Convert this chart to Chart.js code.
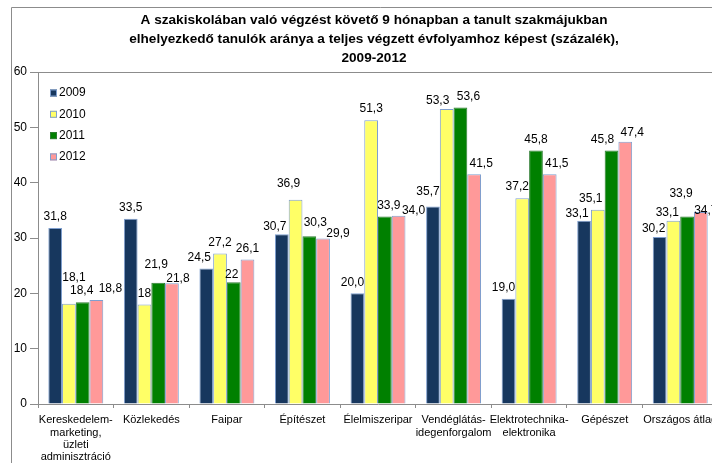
<!DOCTYPE html>
<html>
<head>
<meta charset="utf-8">
<script src="https://cdn.jsdelivr.net/npm/chart.js@4.4.1/dist/chart.umd.min.js"></script>
<style>
  html, body { margin: 0; padding: 0; background: #fff; overflow: hidden; }
  #wrap { width: 750px; height: 463px; }
</style>
</head>
<body>
<div id="wrap"><canvas id="chart" width="750" height="463"></canvas></div>
<script>
// Chart data
const categories = [
  ["Kereskedelem-", "marketing,", "üzleti", "adminisztráció"],
  "Közlekedés",
  "Faipar",
  "Építészet",
  "Élelmiszeripar",
  ["Vendéglátás-", "idegenforgalom"],
  ["Elektrotechnika-", "elektronika"],
  "Gépészet",
  "Országos átlag"
];
const years = ["2009", "2010", "2011", "2012"];

const values2009 = [31.8, 33.5, 24.5, 30.7, 20.0, 35.7, 19.0, 33.1, 30.2];
const values2010 = [18.1, 18.0, 27.2, 36.9, 51.3, 53.3, 37.2, 35.1, 33.1];
const values2011 = [18.4, 21.9, 22.0, 30.3, 33.9, 53.6, 45.8, 45.8, 33.9];
const values2012 = [18.8, 21.8, 26.1, 29.9, 34.0, 41.5, 41.5, 47.4, 34.7];

// value labels as printed on the chart
const labels2009 = ["31,8", "33,5", "24,5", "30,7", "20,0", "35,7", "19,0", "33,1", "30,2"];
const labels2010 = ["18,1", "18", "27,2", "36,9", "51,3", "53,3", "37,2", "35,1", "33,1"];
const labels2011 = ["18,4", "21,9", "22", "30,3", "33,9", "53,6", "45,8", "45,8", "33,9"];
const labels2012 = ["18,8", "21,8", "26,1", "29,9", "34,0", "41,5", "41,5", "47,4", "34,7"];

const yTicks = [0, 10, 20, 30, 40, 50, 60];

const titleLines = [
  "A szakiskolában való végzést követő 9 hónapban a tanult szakmájukban",
  "elhelyezkedő tanulók aránya a teljes végzett évfolyamhoz képest (százalék),",
  "2009-2012"
];

// label nudges [dx, dy] so the numbers don't collide (like the original)
const nudge = [
  [[0,0],[0,0],[-7,0],[-7,4],[-5,0],[-5,-4],[-5,0],[-7,4],[-6,3]],
  [[5,-15],[0,0],[0,0],[-7,-5],[0,0],[-9,3],[-5,0],[-7,0],[-6,3]],
  [[-1,0],[-2,-7],[-2,3],[6,-3],[4,0],[8,0],[0,0],[-9,0],[-6,-12]],
  [[14,0],[6,6],[0,0],[15,6],[15,6],[7,0],[7,0],[7,2],[5,10]]
];

const FONT = "'Liberation Sans', Arial, sans-serif";
const GRAY = "#8c8c8c";

const seriesValues = [values2009, values2010, values2011, values2012];
const seriesLabels = [labels2009, labels2010, labels2011, labels2012];
const fills = ["#17375E", "#FFFF66", "#008000", "#FF9999"];
const borders = ["#7F9FCF", "#7F9FCF", "#2E7D32", "#7F9FCF"];

// Draws title, outer frame, plot border, legend and value labels
const decorations = {
  id: "decorations",
  beforeDraw: (chart) => {
    const { ctx, chartArea: a } = chart;
    ctx.save();
    ctx.strokeStyle = GRAY;
    ctx.lineWidth = 1;
    ctx.beginPath();
    ctx.moveTo(11.5, chart.height);
    ctx.lineTo(11.5, 7.5);
    ctx.lineTo(chart.width, 7.5);
    ctx.moveTo(a.left, Math.round(a.top) + 0.5);
    ctx.lineTo(chart.width, Math.round(a.top) + 0.5);
    ctx.stroke();

    ctx.fillStyle = "#000";
    ctx.font = "bold 13.6px " + FONT;
    ctx.textAlign = "center";
    ctx.textBaseline = "middle";
    titleLines.forEach((line, i) => ctx.fillText(line, 374, 20 + i * 19));
    ctx.restore();
  },
  afterDatasetsDraw: (chart) => {
    const ctx = chart.ctx;
    ctx.save();
    ctx.font = "12px " + FONT;
    ctx.fillStyle = "#000";
    ctx.textAlign = "center";
    ctx.textBaseline = "middle";
    chart.data.datasets.forEach((ds, di) => {
      chart.getDatasetMeta(di).data.forEach((bar, i) => {
        const [dx, dy] = nudge[di][i];
        ctx.fillText(seriesLabels[di][i], bar.x + dx, bar.y - 11 + dy);
      });
    });

    // legend inside the plot, top-left
    ctx.textAlign = "left";
    years.forEach((y, i) => {
      const cy = 93 + i * 21.3;
      ctx.fillStyle = fills[i];
      ctx.fillRect(50, cy - 3.5, 7, 7);
      ctx.strokeStyle = borders[i];
      ctx.lineWidth = 1;
      ctx.strokeRect(50.5, cy - 3, 6, 6);
      ctx.fillStyle = "#000";
      ctx.fillText(y, 59, cy);
    });
    ctx.restore();
  }
};

new Chart(document.getElementById("chart"), {
  type: "bar",
  data: {
    labels: categories,
    datasets: years.map((y, i) => ({
      label: y,
      data: seriesValues[i],
      backgroundColor: fills[i],
      borderColor: borders[i],
      borderWidth: 1,
      categoryPercentage: 0.727,
      barPercentage: 1
    }))
  },
  options: {
    responsive: false,
    animation: false,
    layout: { padding: { left: 0, right: 32, top: 72, bottom: 0 } },
    plugins: {
      legend: { display: false },
      title: { display: false },
      tooltip: { enabled: false }
    },
    scales: {
      x: {
        grid: {
          display: true,
          drawOnChartArea: false,
          drawTicks: true,
          tickLength: 4,
          color: GRAY,
          offset: true
        },
        border: { color: GRAY },
        ticks: {
          color: "#000",
          font: { size: 11, family: FONT, lineHeight: 1.12 },
          padding: 6,
          maxRotation: 0,
          autoSkip: false
        },
        afterFit: (s) => { s.height = 59; }
      },
      y: {
        min: 0,
        max: 60,
        afterBuildTicks: (s) => { s.ticks = yTicks.map(v => ({ value: v })); },
        grid: {
          drawOnChartArea: false,
          drawTicks: true,
          tickLength: 8,
          color: GRAY
        },
        border: { color: GRAY },
        ticks: {
          color: "#000",
          font: { size: 12, family: FONT },
          padding: 3
        },
        afterFit: (s) => { s.width = 38; }
      }
    }
  },
  plugins: [decorations]
});
</script>
</body>
</html>
